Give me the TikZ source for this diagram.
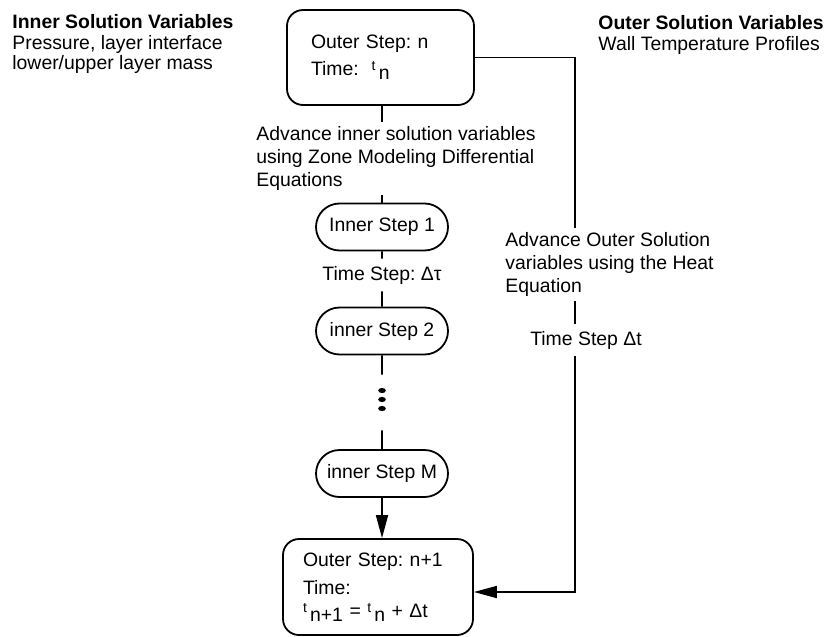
\documentclass[tikz,border=0pt]{standalone}
\usepackage{fontspec}
\setmainfont{Liberation Sans}
\usetikzlibrary{arrows.meta, positioning, shapes.misc}
\frenchspacing

% small raised t with lowered index, as printed
\newcommand{\tsym}[1]{\raisebox{0.5ex}{\scriptsize t}\,\raisebox{-0.35ex}{#1}}

\tikzset{
  outerbox/.style={draw, line width=0.9pt, rounded corners=8pt, align=left, inner ysep=0pt},
  innerbox/.style={draw, line width=0.9pt, rounded rectangle, minimum width=66pt, minimum height=23.5pt, inner sep=0pt},
  note/.style={align=left, inner sep=2pt},
  gaplabel/.style={inner sep=3.5pt},
  link/.style={line width=0.9pt},
}

\begin{document}
\begin{tikzpicture}[x=0.5pt, y=-0.5pt, font=\fontsize{9.7}{11.5}\selectfont, >={Triangle[length=11.5pt, width=6pt]}]
  \useasboundingbox (0,0) rectangle (833,636);

  % Headings
  \node[note, anchor=north west, font=\fontsize{9.7}{10.3}\selectfont] (innervars) at (8,10)
    {\textbf{Inner Solution Variables}\\Pressure, layer interface\\lower/upper layer mass};
  \node[note, anchor=north west, font=\fontsize{9.7}{10.3}\selectfont] (outervars) at (594,11)
    {\textbf{Outer Solution Variables}\\Wall Temperature Profiles};

  % Outer steps
  \node[outerbox, text width=69.5pt, inner xsep=12pt, minimum height=47.5pt] (outer0) at (380.5,57.5)
    {Outer Step: n\\[2pt]Time:\ \ \tsym{n}};
  \node[outerbox, text width=75pt, inner xsep=10pt, minimum height=48pt] (outer1) at (378,587)
    {Outer Step: n+1\\[2.5pt]Time:\\\tsym{n+1} = \tsym{n} + Δt};

  % Inner steps
  \node[note, anchor=north west] (advin) at (252,122)
    {Advance inner solution variables\\using Zone Modeling Differential\\Equations};
  \node[innerbox] (step1) at (382,227) {Inner Step 1};
  \node[gaplabel] (dtau) at (382,275) {Time Step: Δτ};
  \node[innerbox] (step2) at (382,331) {inner Step 2};
  \node[minimum height=27.5pt, minimum width=8pt, inner sep=0pt] (vdots) at (382,402.5) {};
  \foreach \dy in {-12,-3,6}
    \fill (vdots.center) ++(0,\dy) ellipse (1.9pt and 1.3pt);
  \node[innerbox] (stepM) at (382,473.5) {inner Step M};

  % Outer solution branch
  \coordinate (wall) at (575,0);
  \node[note, anchor=north west] (advout) at (501,228)
    {Advance Outer Solution\\variables using the Heat\\Equation};
  \node[gaplabel] (dtout) at (586,340) {Time Step Δt};

  % Connectors
  \draw[link] (outer0.south -| step1.north) -- (step1.north |- advin.north);
  \draw[link] (advin.south -| step1.north) -- (step1.north);
  \draw[link] (step1) -- (dtau);
  \draw[link] (dtau) -- (step2);
  \draw[link] (step2) -- (vdots);
  \draw[link] (vdots) -- (stepM);
  \draw[link, ->] (stepM.south) -- (stepM.south |- outer1.north);
  \draw[link] (outer0.east) -| (wall |- advout.north);
  \draw[link] (wall |- advout.south) -- (wall |- dtout.north);
  \draw[link, ->] (wall |- dtout.south) |- ([yshift=-2.5pt]outer1.east);
\end{tikzpicture}
\end{document}
